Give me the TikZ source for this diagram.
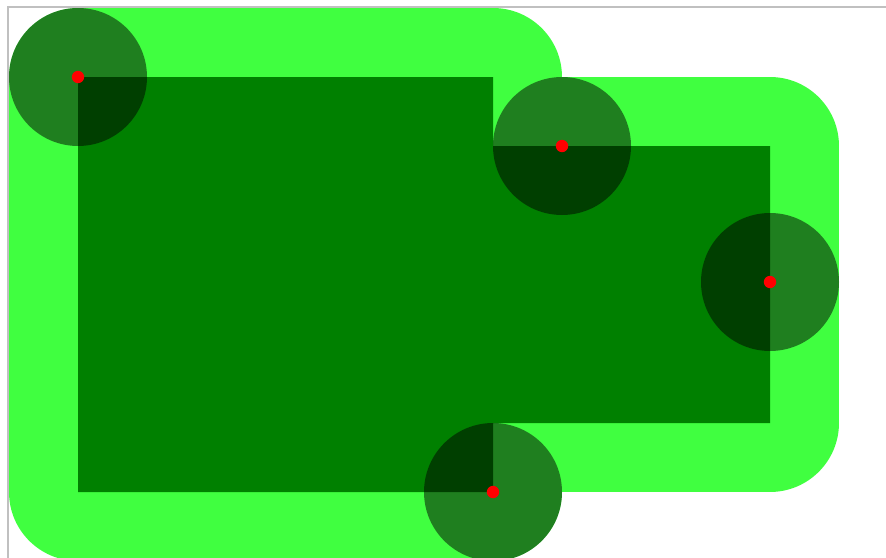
\documentclass[tikz,border=0pt]{standalone}
\definecolor{lightgr}{RGB}{64,255,64}
\definecolor{darkgr}{RGB}{0,128,0}
\definecolor{framegray}{RGB}{192,192,192}
\tikzset{
  halo/.style={fill=lightgr, draw=lightgr, line width=138pt, line join=round},
  core/.style={fill=darkgr},
  disc/.style={fill=black, fill opacity=0.5},
  dot/.style={fill=red}
}
\begin{document}
\begin{tikzpicture}[x=1pt,y=-1pt]
\useasboundingbox (0,0) rectangle (886,557);
\clip (0,0) rectangle (886,557);
\fill[white] (0,0) rectangle (886,557);
\draw[framegray, line width=1.5pt] (8,7) rectangle (920,600);
\path[halo] (78,77) -- (493,77) -- (493,146) -- (770,146) -- (770,423) -- (493,423) -- (493,492) -- (78,492) -- cycle;
\path[core] (78,77) -- (493,77) -- (493,146) -- (770,146) -- (770,423) -- (493,423) -- (493,492) -- (78,492) -- cycle;
\coordinate (c1) at (78,77);
\coordinate (c2) at (562,146);
\coordinate (c3) at (770,282);
\coordinate (c4) at (493,492);
\foreach \c in {c1,c2,c3,c4} {
  \fill[disc] (\c) circle (69);
}
\foreach \c in {c1,c2,c3,c4} {
  \fill[dot] (\c) circle (6.2);
}
\end{tikzpicture}
\end{document}
